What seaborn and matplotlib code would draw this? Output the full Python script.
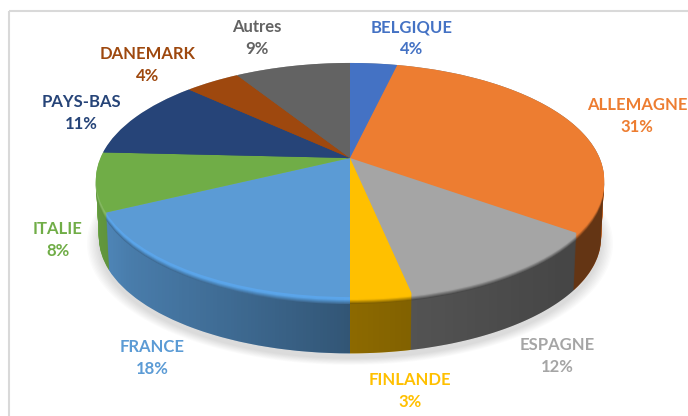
import numpy as np
import seaborn as sns
import matplotlib
matplotlib.use("Agg")
import matplotlib.pyplot as plt
from matplotlib.patches import Polygon, Rectangle
from matplotlib.transforms import Transform

# share of each country, clockwise from 12 o'clock
pays = ["BELGIQUE", "ALLEMAGNE", "ESPAGNE", "FINLANDE", "FRANCE", "ITALIE", "PAYS-BAS", "DANEMARK", "Autres"]
parts = [3.6, 31.45, 11.72, 3.23, 17.7, 8.1, 11.2, 4.2, 8.8]
couleurs = ["#4472c4", "#ed7d31", "#a5a5a5", "#ffc000", "#5b9bd5", "#70ad47", "#264478", "#9e480e", "#636363"]
# how dark the bottom of the bevel gets on each piece
ombres = [0.5, 0.55, 0.55, 0.5, 0.3, 0.15, 0.3, 0.3, 0.3]
# where the labels go, in pixels
pos_x = [412, 637, 557, 410, 152, 58, 81, 148, 257]
pos_y = [38, 116, 356, 391, 358, 240, 113, 65, 38]

CX, CY = 350, 158
A, B, K = 249.6, 112.9, 0.188
DEPTH = 58
RIM = 7


class Tilt(Transform):
    # perspective view of the flat pie, output in pixels
    input_dims = 2
    output_dims = 2
    is_separable = False
    has_inverse = False

    def __init__(self, d=0, s=1.0):
        super().__init__()
        self.d = d
        self.s = s

    def transform_non_affine(self, xy):
        xy = np.asarray(xy, dtype=float)
        w = 1 + K * xy[:, 1]
        return np.column_stack([CX + self.s * A * xy[:, 0] / w,
                                CY + self.d - self.s * B * xy[:, 1] / w])


def mix(c1, c2, t):
    c1, c2 = np.array(matplotlib.colors.to_rgb(c1)), np.array(matplotlib.colors.to_rgb(c2))
    return tuple((1 - t) * c1 + t * c2)


def draw_pie(ax, d, cols, s=1.0, z=2):
    wedges, _ = ax.pie(parts, colors=cols, startangle=90, counterclock=False, radius=1)
    tr = Tilt(d, s) + ax.transData
    for w in wedges:
        w.set_transform(tr)
        w.set_zorder(z)
        w.set_linewidth(0)


sns.set_theme(style="white")
plt.rcParams["font.family"] = ["Lato", "DejaVu Sans"]
fig = plt.figure(figsize=(6.88, 4.16), dpi=100)
ax = fig.add_axes([0, 0, 1, 1])
palette = sns.color_palette(couleurs)

# side of the pie, stacked copies going up to the top disc
for d in range(DEPTH, RIM, -1):
    draw_pie(ax, d, palette, s=1 - 0.012 * d / DEPTH, z=3)

ax.set_aspect("auto")
ax.set_xlim(0, 688)
ax.set_ylim(416, 0)
ax.axis("off")

th = np.linspace(0, 2 * np.pi, 400)
ux, uy = np.cos(th), np.sin(th)

# soft shadow under the pie
sx = Tilt(DEPTH + 5, 1.0).transform_non_affine(np.column_stack([ux, uy]))
for g in np.linspace(1.035, 0.99, 9):
    pts = np.column_stack([CX + (sx[:, 0] - CX) * g, CY + DEPTH + 5 + (sx[:, 1] - CY - DEPTH - 5) * g])
    ax.add_patch(Polygon(pts, closed=True, fc="#000000", ec="none", alpha=0.016, zorder=1))

# darkening across the side, stronger to the right
top = Tilt(0, 1.0).transform_non_affine(np.column_stack([ux, uy]))
bot = Tilt(DEPTH, 0.988).transform_non_affine(np.column_stack([ux, uy]))
outline = np.where((uy > -K)[:, None], top, bot)
xs = np.linspace(96, 604, 256)
alpha = np.interp(xs, [96, 130, 350, 420, 570, 604], [0.12, 0.2, 0.45, 0.5, 0.58, 0.58])
shade = np.zeros((2, 256, 4))
shade[:, :, 3] = alpha
im = ax.imshow(shade, extent=(96, 604, 416, 0), aspect="auto", zorder=4, interpolation="bilinear")
im.set_clip_path(Polygon(outline, closed=True, transform=ax.transData))

# bevel along the rim, lighter on the left pieces
sides = [mix(c, "#000000", o) for c, o in zip(couleurs, ombres)]
rim_top = [mix(c, "#5ab0ff", 0.5) if c == "#5b9bd5" else mix(c, "#ffffff", 0.15) if c == "#70ad47" else c
           for c in couleurs]
for d in range(RIM, 0, -1):
    t = np.clip((d / RIM - 0.4) / 0.6, 0, 1)
    cols = [mix(a, b, t) for a, b in zip(rim_top, sides)]
    draw_pie(ax, d, cols, z=5)

# top disc
draw_pie(ax, 0, palette, z=6)
ax.set_aspect("auto")
ax.set_xlim(0, 688)
ax.set_ylim(416, 0)
ax.axis("off")

# labels
for nom, v, c, x, y in zip(pays, parts, couleurs, pos_x, pos_y):
    ax.text(x, y, f"{nom}\n{v:.0f}%", color=c, ha="center", va="center", fontsize=12,
            fontweight="bold", linespacing=1.45, zorder=8)

# chart frame
ax.add_patch(Rectangle((9, 11), 1000, 1000, fill=False, ec="#d9d9d9", lw=1.5, zorder=9))

fig.savefig("out.png", dpi=100)
